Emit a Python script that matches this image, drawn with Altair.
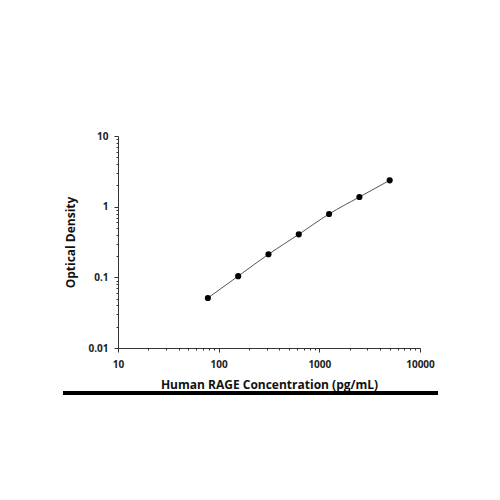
import altair as alt
import pandas as pd

conc = [78.125, 156.25, 312.5, 625, 1250, 2500, 5000]
od = [0.051, 0.104, 0.212, 0.406, 0.787, 1.37, 2.36]

x_major = [10, 100, 1000, 10000]
y_major = [0.01, 0.1, 1, 10]
x_minor = [a * b for b in [10, 100, 1000] for a in range(2, 10)]
y_minor = [round(a * b, 4) for b in [0.01, 0.1, 1] for a in range(2, 10)]

df = pd.DataFrame({"conc": conc, "od": od})

FONT = "Open Sans"
W, H = 302, 212

IS_MAJOR = "abs(log(datum.value)/LN10 - round(log(datum.value)/LN10)) < 0.0001"

xscale = alt.Scale(type="log", domain=[10, 10000], nice=False)
yscale = alt.Scale(type="log", domain=[0.01, 10], nice=False)

common = dict(
    grid=False, tickColor="#333", domainColor="#333",
    tickSize={"condition": {"test": IS_MAJOR, "value": 4}, "value": 2},
    labelFont=FONT, labelFontSize=10, labelFontWeight="bold",
    labelColor="#222",
    labelExpr="(" + IS_MAJOR + ") ? format(datum.value, '') : ''",
    titleFont=FONT, titleFontSize=12, titleFontWeight="bold",
    titleColor="#111", labelFlush=False, labelOverlap=False,
)

xaxis = alt.Axis(values=sorted(x_major + x_minor), labelPadding=7,
                 title="Human RAGE Concentration (pg/mL)", titlePadding=10, **common)
yaxis = alt.Axis(values=sorted(y_major + y_minor), labelPadding=6,
                 title="Optical Density", titlePadding=10, **common)

base = alt.Chart(df)

line = base.mark_line(interpolate="monotone", color="#555", strokeWidth=1).encode(
    x=alt.X("conc:Q", scale=xscale, axis=xaxis),
    y=alt.Y("od:Q", scale=yscale, axis=yaxis),
)
pts = base.mark_circle(size=38, color="#000", opacity=1).encode(
    x=alt.X("conc:Q", scale=xscale),
    y=alt.Y("od:Q", scale=yscale),
)

bar = alt.Chart(df).mark_rule(color="#000", strokeWidth=4).encode(
    x=alt.value(-55), x2=alt.value(320), y=alt.value(257)
)

chart = alt.layer(line, pts, bar).properties(
    width=W, height=H,
    autosize=alt.AutoSizeParams(type="none"),
    padding={"left": 110, "top": 128, "right": 60, "bottom": 140},
).configure_view(stroke=None)

chart.save("out.html", embed_options={"renderer": "svg", "actions": False})
